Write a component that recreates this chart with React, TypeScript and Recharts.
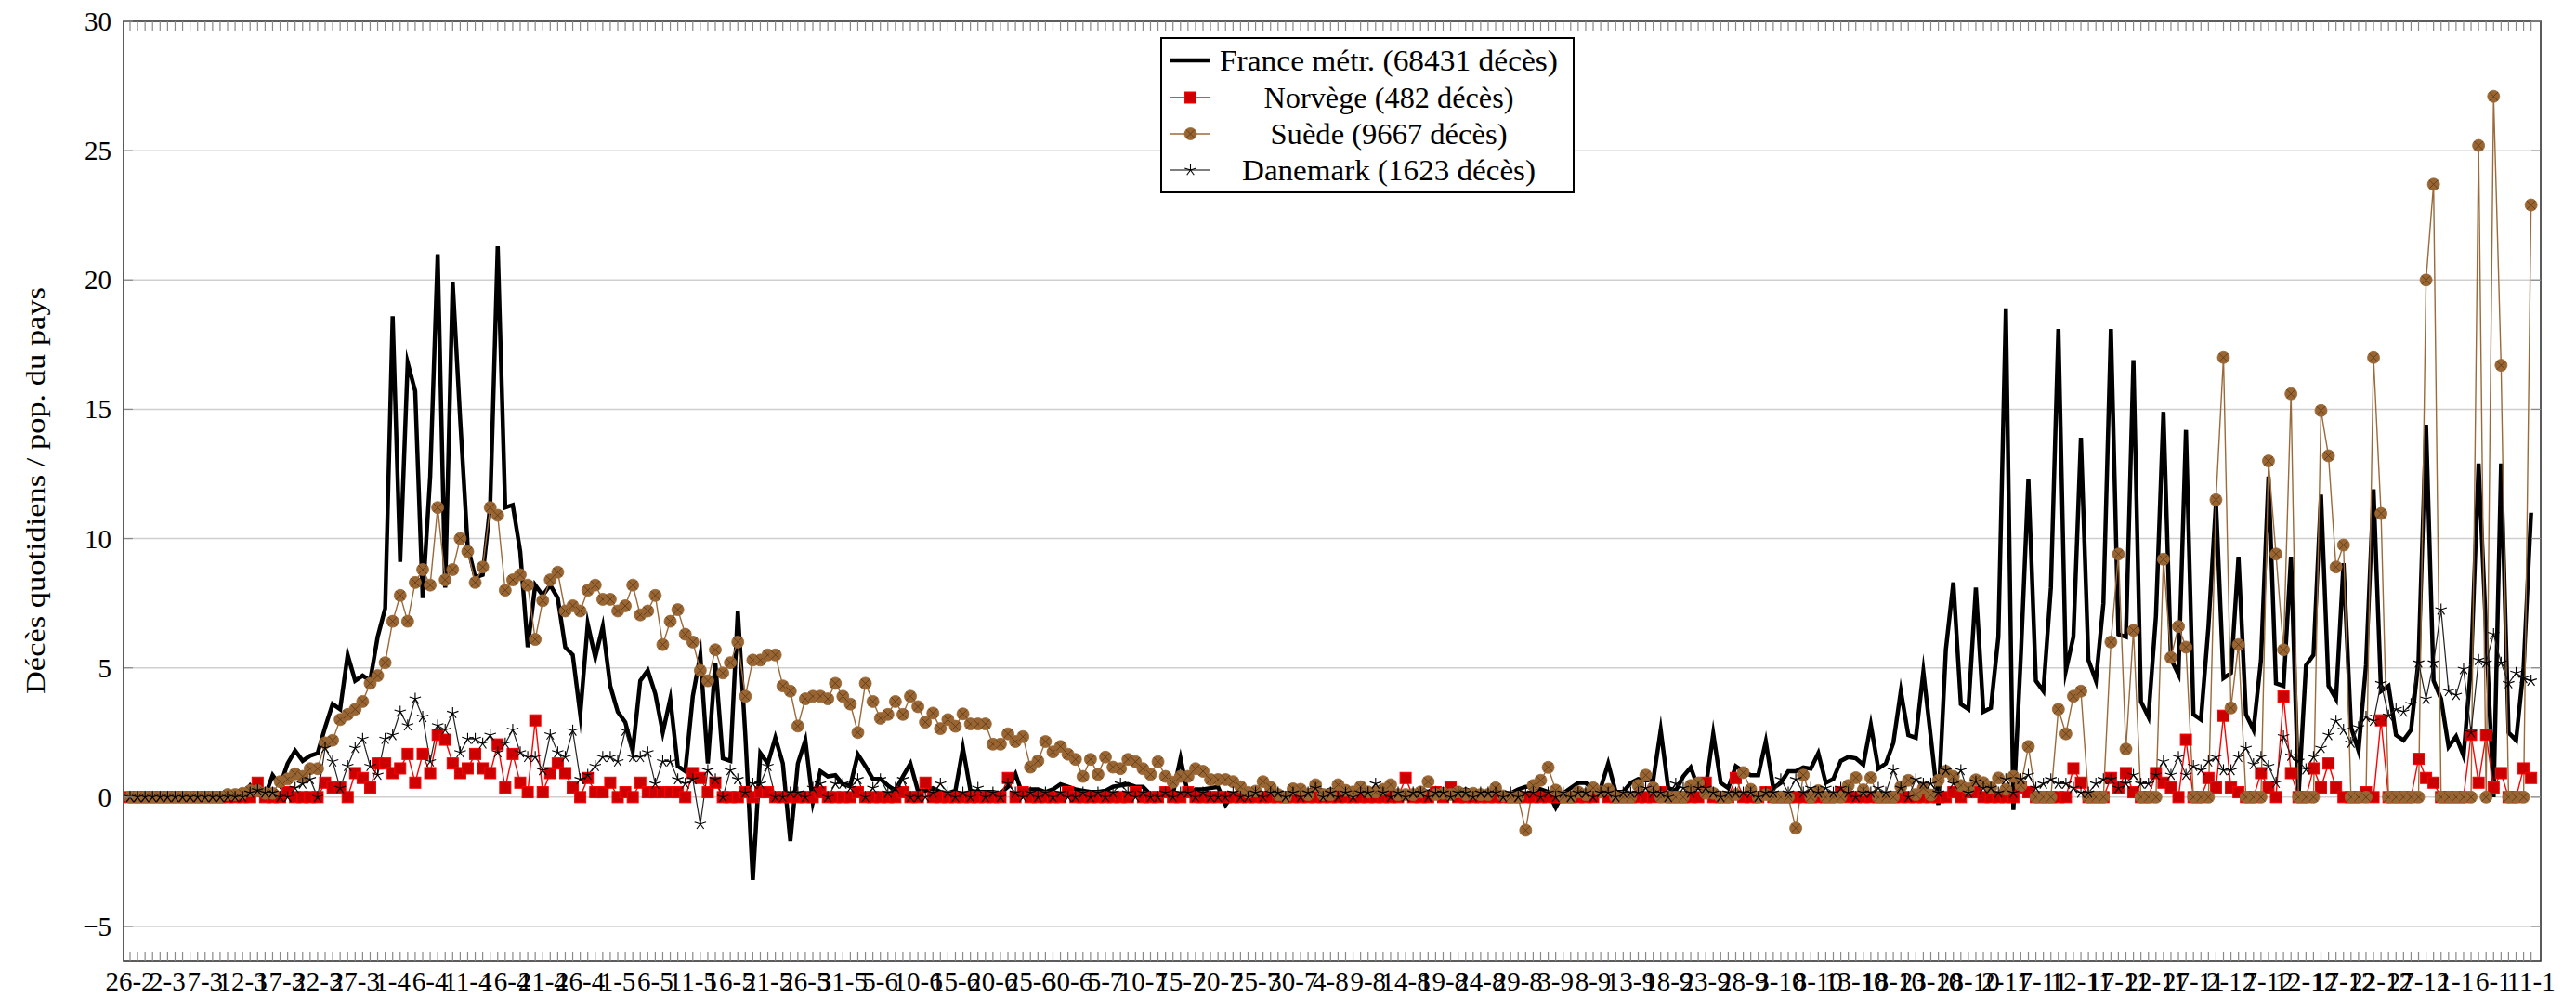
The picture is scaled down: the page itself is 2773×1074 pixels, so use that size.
import React from 'react';
import { LineChart, Line, XAxis, YAxis, CartesianGrid, ReferenceArea, Legend } from 'recharts';

const FONT = '"Liberation Serif", "DejaVu Serif", serif';
const W = 2773;
const H = 1074;
const PLOT_L = 133;
const PLOT_R = 2735;
const PLOT_T = 23;
const PLOT_B = 1034;
const X_DOMAIN: [number, number] = [-0.867, 321.28];
const Y_DOMAIN: [number, number] = [-6.33, 30];

const X_TICK_LABELS = [
  '26-2', '2-3', '7-3', '12-3', '17-3', '22-3', '27-3', '1-4', '6-4', '11-4',
  '16-4', '21-4', '26-4', '1-5', '6-5', '11-5', '16-5', '21-5', '26-5', '31-5',
  '5-6', '10-6', '15-6', '20-6', '25-6', '30-6', '5-7', '10-7', '15-7', '20-7',
  '25-7', '30-7', '4-8', '9-8', '14-8', '19-8', '24-8', '29-8', '3-9', '8-9',
  '13-9', '18-9', '23-9', '28-9', '3-10', '8-10', '13-10', '18-10', '23-10', '28-10',
  '2-11', '7-11', '12-11', '17-11', '22-11', '27-11', '2-12', '7-12', '12-12', '17-12',
  '22-12', '27-12', '1-1', '6-1', '11-1',
];
const Y_TICKS = [-5, 0, 5, 10, 15, 20, 25, 30];

const FRANCE = [
  0, 0, 0, 0, 0, 0, 0, 0, 0, 0,
  0, 0, 0, 0, 0.05, 0.05, 0.45, 0.1, 0.05, 0.85,
  0.45, 1.3, 1.8, 1.4, 1.6, 1.7, 2.7, 3.6, 3.4, 5.5,
  4.5, 4.7, 4.5, 6.2, 7.3, 18.6, 9.1, 16.8, 15.7, 7.7,
  12.4, 21.0, 8.1, 19.9, 14.6, 9.7, 8.5, 8.6, 11.3, 21.3,
  11.2, 11.3, 9.5, 5.8, 8.2, 7.8, 8.2, 7.7, 5.8, 5.5,
  3.2, 6.7, 5.4, 6.6, 4.3, 3.3, 2.9, 1.8, 4.5, 4.9,
  4.0, 2.5, 3.8, 1.2, 1.0, 3.9, 5.5, 1.3, 5.2, 1.5,
  1.4, 7.2, 2.4, -3.2, 1.7, 1.3, 2.3, 1.3, -1.7, 1.3,
  2.2, -0.2, 1.0, 0.8, 0.85, 0.5, 0.45, 1.65, 1.2, 0.7,
  0.7, 0.45, 0.25, 0.8, 1.3, 0.25, 0.25, 0.35, 0.2, 0.15,
  0.25, 1.9, 0.25, 0.2, 0.2, 0.2, 0.15, 0.4, 0.9, 0.05,
  0.3, 0.3, 0.2, 0.3, 0.5, 0.4, 0.3, 0.25, 0.2, 0.2,
  0.25, 0.4, 0.45, 0.5, 0.4, 0.4, 0.1, 0.1, 0.15, 0.15,
  1.5, 0.1, 0.3, 0.3, 0.35, 0.4, -0.3, 0.1, 0.1, 0.1,
  0.1, 0.1, 0.15, 0.1, 0.15, 0.15, 0.15, 0.2, 0.45, 0.2,
  0.3, 0.25, 0.2, 0.15, 0.3, 0.2, 0.15, 0.2, 0.25, 0.2,
  0.15, 0.2, 0.3, 0.2, 0.35, 0.3, 0.25, 0.2, 0.3, 0.2,
  0.2, 0.2, 0.15, 0.1, 0.15, 0.3, 0.4, 0.4, 0.3, 0.2,
  -0.4, 0.15, 0.35, 0.55, 0.55, 0.3, 0.35, 1.3, 0.2, 0.2,
  0.55, 0.7, 0.65, 0.65, 2.6, 0.35, 0.25, 0.8, 1.15, 0.35,
  0.35, 2.45, 0.55, 0.35, 1.2, 1.0, 0.85, 0.85, 2.15, 0.35,
  0.55, 1.0, 1.0, 1.15, 1.1, 1.7, 0.55, 0.7, 1.4, 1.55,
  1.5, 1.25, 2.8, 1.1, 1.3, 2.1, 4.1, 2.4, 2.3, 4.85,
  2.3, -0.3, 5.7, 8.3, 3.6, 3.4, 8.1, 3.3, 3.45, 6.2,
  18.9, -0.5, 5.5, 12.3, 4.5, 4.1, 8.1, 18.1, 4.9, 6.2,
  13.9, 5.3, 4.5, 7.5, 18.1, 6.3, 6.2, 16.9, 3.7, 3.1,
  7.0, 14.9, 5.35, 4.75, 14.2, 3.2, 3.0, 6.6, 11.4, 4.6,
  4.8, 9.3, 3.2, 2.6, 5.3, 12.4, 4.4, 4.3, 9.3, 0,
  5.1, 5.5, 11.7, 4.3, 3.8, 9.05, 2.7, 1.8, 5.1, 11.9,
  4.1, 4.3, 2.4, 2.2, 2.6, 5.3, 14.4, 4.5, 3.8, 1.95,
  2.35, 1.6, 5.1, 12.9, 6.4, 0, 12.9, 2.5, 2.2, 5.0, 11.0,
];

const NORWAY = [
  0, 0, 0, 0, 0, 0, 0, 0, 0, 0,
  0, 0, 0, 0, 0, 0, 0, 0.56, 0, 0,
  0, 0.19, 0, 0, 0, 0, 0.56, 0.37, 0.37, 0,
  0.93, 0.74, 0.37, 1.3, 1.3, 0.93, 1.11, 1.67, 0.56, 1.67,
  0.93, 2.41, 2.22, 1.3, 0.93, 1.11, 1.67, 1.11, 0.93, 2.04,
  0.37, 1.67, 0.56, 0.19, 2.97, 0.19, 0.93, 1.3, 0.93, 0.37,
  0, 0.74, 0.19, 0.19, 0.56, 0, 0.19, 0, 0.56, 0.19,
  0.19, 0.19, 0.19, 0.19, 0, 0.93, 0.74, 0.19, 0.56, 0,
  0, 0, 0.19, 0, 0.19, 0.19, 0, 0, 0, 0,
  0, 0, 0.19, 0, 0, 0, 0, 0.19, 0, 0,
  0, 0, 0, 0.19, 0, 0, 0.56, 0, 0, 0,
  0, 0, 0, 0, 0, 0, 0, 0.74, 0, 0.19,
  0, 0, 0, 0, 0, 0.19, 0, 0, 0, 0,
  0, 0, 0, 0, 0.19, 0, 0, 0, 0.19, 0,
  0, 0.19, 0, 0, 0, 0, 0, 0, 0, 0,
  0, 0, 0, 0, 0, 0, 0, 0, 0, 0,
  0, 0, 0, 0, 0, 0, 0, 0, 0, 0,
  0.74, 0, 0, 0, 0.19, 0, 0.37, 0, 0, 0,
  0, 0, 0, 0, 0, 0, 0, 0, 0, 0,
  0, 0, 0, 0, 0, 0, 0.19, 0, 0, 0,
  0, 0, 0, 0, 0.19, 0, 0, 0, 0, 0,
  0.56, 0, 0, 0, 0.74, 0, 0, 0, 0.19, 0,
  0, 0, 0, 0, 0, 0, 0, 0, 0.19, 0,
  0, 0, 0, 0, 0, 0, 0, 0, 0, 0,
  0, 0, 0, 0.19, 0, 0.19, 0.19, 0, 0, 0,
  0, 0, 0.37, 0.19, 0, 0, 0, 0, 0, 1.11,
  0.56, 0, 0, 0, 0.74, 0.37, 0.93, 0.19, 0, 0,
  0.93, 0.56, 0.37, 0, 2.22, 0, 0, 0.74, 0.37, 3.15,
  0.37, 0.19, 0, 0, 0.93, 0.37, 0, 3.89, 0.93, 0,
  0, 1.11, 0.37, 1.3, 0.37, 0, 0, 0, 0.19, 0,
  2.97, 0, 0, 0, 0, 1.48, 0.74, 0.56, 0, 0,
  0, 0, 2.41, 0.56, 2.41, 0.37, 0.93, 0, 0, 1.11, 0.74,
];

const SWEDEN = [
  0, 0, 0, 0, 0, 0, 0, 0, 0, 0,
  0, 0, 0, 0.1, 0.1, 0.15, 0.25, 0.25, 0.15, 0.15,
  0.6, 0.7, 0.9, 0.8, 1.1, 1.1, 2.1, 2.2, 3.0, 3.2,
  3.4, 3.7, 4.4, 4.7, 5.2, 6.8, 7.8, 6.8, 8.3, 8.8,
  8.2, 11.2, 8.4, 8.8, 10.0, 9.5, 8.3, 8.9, 11.2, 10.9,
  8.0, 8.4, 8.6, 8.2, 6.1, 7.6, 8.4, 8.7, 7.2, 7.4,
  7.2, 8.0, 8.2, 7.65, 7.65, 7.2, 7.4, 8.2, 7.05, 7.2,
  7.8, 5.9, 6.8, 7.25, 6.3, 6.0, 4.9, 4.5, 5.7, 4.8,
  5.2, 6.0, 3.9, 5.3, 5.3, 5.5, 5.5, 4.3, 4.1, 2.75,
  3.8, 3.9, 3.9, 3.8, 4.4, 3.9, 3.6, 2.5, 4.4, 3.7,
  3.05, 3.2, 3.7, 3.2, 3.9, 3.5, 2.9, 3.25, 2.65, 3.0,
  2.74, 3.22, 2.83, 2.83, 2.83, 2.05, 2.05, 2.45, 2.15, 2.34,
  1.16, 1.4, 2.15, 1.75, 1.96, 1.66, 1.46, 0.8, 1.46, 0.88,
  1.55, 1.16, 1.1, 1.46, 1.37, 1.1, 0.88, 1.37, 0.8, 0.58,
  0.8, 0.8, 1.1, 1.0, 0.68, 0.68, 0.68, 0.6, 0.4, 0.18,
  0.23, 0.6, 0.38, 0.1, 0, 0.32, 0.3, 0.1, 0.48, 0.1,
  0.1, 0.48, 0.26, 0.2, 0.4, 0.2, 0.2, 0.3, 0.48, 0.1,
  0.1, 0.1, 0.2, 0.6, 0.1, 0.15, 0.1, 0.2, 0.1, 0.15,
  0.1, 0.1, 0.36, 0.05, 0, 0, -1.28, 0.45, 0.65, 1.15,
  0.27, 0, 0, 0.2, 0.1, 0.36, 0.2, 0.3, 0, 0,
  0, 0.45, 0.85, 0.36, 0, 0, 0, 0, 0.45, 0.55,
  0.15, 0.15, 0, 0, 0.1, 0.95, 0.3, 0, 0.1, 0,
  0, 0, -1.2, 0.85, 0, 0.25, 0, 0, 0, 0.45,
  0.75, 0.28, 0.75, 0, 0, 0, 0.4, 0.65, 0.1, 0.35,
  0.08, 0.65, 1.0, 0.8, 0.45, 0.33, 0.67, 0.56, 0.37, 0.74,
  0.3, 0.8, 0.45, 1.96, 0, 0, 0, 3.4, 2.45, 3.9,
  4.1, 0, 0, 0, 6.0, 9.4, 1.86, 6.45, 0, 0,
  0, 9.2, 5.4, 6.6, 5.8, 0, 0, 0, 11.5, 17.0,
  3.45, 5.9, 0, 0, 0, 13.0, 9.4, 5.7, 15.6, 0,
  0, 0, 14.95, 13.2, 8.9, 9.75, 0, 0, 0, 17.0,
  10.97, 0, 0, 0, 0, 0, 20.0, 23.7, 0, 0,
  0, 0, 0, 25.2, 0, 27.1, 16.7, 0, 0, 0, 22.9,
];

const DENMARK = [
  0, 0, 0, 0, 0, 0, 0, 0, 0, 0,
  0, 0, 0, 0, 0, 0, 0.17, 0.26, 0.17, 0.17,
  0, 0, 0.35, 0.52, 0.69, 0, 1.9, 1.38, 0.35, 1.2,
  1.9, 2.25, 1.2, 0.86, 2.25, 2.4, 3.3, 2.77, 3.8, 3.1,
  1.38, 2.77, 2.6, 3.25, 1.73, 2.25, 2.25, 2.07, 2.4, 1.73,
  2.07, 2.6, 1.73, 1.55, 1.55, 1.04, 2.42, 1.73, 1.55, 2.57,
  0.69, 0.86, 1.2, 1.55, 1.55, 1.38, 2.57, 1.55, 1.55, 1.73,
  0.52, 1.38, 1.38, 0.69, 0.52, 0.69, -1.04, 1.04, 0.69, 0,
  1.04, 0.69, 0.17, 0.52, 0.52, 1.2, 0, 0, 0.17, 0.17,
  0, 0.35, 0.52, 0, 0.52, 0.52, 0.35, 0.69, 0, 0.35,
  0.69, 0.17, 0.35, 0.69, 0, 0, 0, 0.17, 0.52, 0.17,
  0, 0.17, 0, 0.35, 0, 0.17, 0, 0.52, 0.17, 0,
  0.17, 0, 0.17, 0, 0.17, 0, 0, 0.17, 0, 0.17,
  0, 0.17, 0.52, 0.17, 0, 0.17, 0, 0, 0.17, 0,
  0.17, 0.17, 0, 0.17, 0, 0, 0, 0.17, 0, 0,
  0.17, 0, 0.17, 0.17, 0, 0.17, 0, 0.17, 0.35, 0,
  0.17, 0, 0.17, 0, 0.17, 0.17, 0.52, 0.17, 0, 0.17,
  0, 0.17, 0.17, 0, 0.17, 0.17, 0, 0.17, 0.17, 0,
  0.17, 0.17, 0.17, 0, 0.17, 0, 0.17, 0.17, 0, 0.17,
  0, 0.17, 0, 0.17, 0.17, 0, 0.17, 0.17, 0, 0.17,
  0.17, 0.17, 0.35, 0.17, 0.17, 0, 0.52, 0.35, 0.17, 0.35,
  0.35, 0.17, 0, 0.17, 0.17, 0.17, 0.17, 0, 0.17, 0.17,
  0.69, 0.17, 0.69, 0.17, 0.35, 0.17, 0.35, 0.17, 0.35, 0.17,
  0, 0.17, 0.17, 0.35, 0.17, 1.04, 0.35, 0, 0.69, 0.52,
  0.52, 0.17, 1.04, 0.52, 1.04, 0.17, 0.6, 0.35, 0.35, 0.17,
  0.69, 0.17, 0.69, 0.86, 0.35, 0.52, 0.69, 0.52, 0.52, 0.35,
  0.17, 0.17, 0.52, 0.69, 0.69, 0.35, 0.52, 0.86, 0.52, 0.52,
  0.86, 1.38, 0.86, 1.55, 0.86, 1.2, 1.04, 1.38, 1.55, 1.04,
  1.04, 1.55, 1.9, 1.27, 1.55, 1.2, 0.55, 2.35, 1.6, 1.4,
  1.07, 1.55, 1.9, 2.4, 2.95, 2.6, 2.1, 2.7, 3.1, 2.95,
  4.4, 3.15, 3.4, 3.3, 3.6, 5.2, 3.8, 5.2, 7.25, 4.1,
  3.95, 4.95, 2.5, 5.3, 5.2, 6.3, 5.2, 4.4, 4.8, 4.6, 4.5,
];

const SERIES_NAMES = {
  fr: 'France métr. (68431 décès)',
  no: 'Norvège (482 décès)',
  se: 'Suède (9667 décès)',
  dk: 'Danemark (1623 décès)',
};

const data = FRANCE.map((v, i) => ({
  day: i,
  fr: v,
  no: NORWAY[i],
  se: SWEDEN[i],
  dk: DENMARK[i],
}));

const DAY_TICKS = data.map((d) => d.day);

const COL_NO_LINE = '#ff0000';
const COL_NO_FILL = '#cc0000';
const COL_SE_LINE = '#9a6a3a';
const COL_SE_FILL = '#996633';
const COL_SE_CROSS = '#5e3a17';

const ok = (p: any) => p && typeof p.cx === 'number' && typeof p.cy === 'number' && !isNaN(p.cy);

const SquareDot = (p: any) => {
  if (!ok(p)) return null;
  const s = 12;
  return <rect x={p.cx - s / 2} y={p.cy - s / 2} width={s} height={s} fill={COL_NO_FILL} stroke={COL_NO_LINE} strokeWidth={1} />;
};

const OtimesDot = (p: any) => {
  if (!ok(p)) return null;
  const r = 6.5;
  const d = r * 0.707;
  return (
    <g>
      <circle cx={p.cx} cy={p.cy} r={r} fill={COL_SE_FILL} stroke={COL_SE_FILL} strokeWidth={0.8} />
      <line x1={p.cx - d} y1={p.cy - d} x2={p.cx + d} y2={p.cy + d} stroke={COL_SE_CROSS} strokeWidth={0.9} />
      <line x1={p.cx - d} y1={p.cy + d} x2={p.cx + d} y2={p.cy - d} stroke={COL_SE_CROSS} strokeWidth={0.9} />
    </g>
  );
};

const STAR_ANGLES = [90, 162, 234, 306, 18];
const StarDot = (p: any) => {
  if (!ok(p)) return null;
  const r = 6.5;
  return (
    <g>
      {STAR_ANGLES.map((a) => {
        const rad = (a * Math.PI) / 180;
        return (
          <line key={a} x1={p.cx} y1={p.cy} x2={p.cx + r * Math.cos(rad)} y2={p.cy - r * Math.sin(rad)} stroke="#000" strokeWidth={1.1} />
        );
      })}
    </g>
  );
};

const XTick = (props: any) => {
  const { x, y, payload } = props;
  const v = payload.value as number;
  const plotH = PLOT_B - PLOT_T;
  const major = v % 5 === 0;
  return (
    <g>
      <line x1={x} x2={x} y1={y} y2={y - 10} stroke="#8a8a8a" strokeWidth={1.2} />
      <line x1={x} x2={x} y1={y - plotH} y2={y - plotH + 10} stroke="#8a8a8a" strokeWidth={1.2} />
      {major && (
        <text x={x} y={y + 32} textAnchor="middle" fontFamily={FONT} fontSize={29} fill="#000">
          {X_TICK_LABELS[v / 5]}
        </text>
      )}
    </g>
  );
};

const YTick = (props: any) => {
  const { y, payload } = props;
  const v = payload.value as number;
  const label = v < 0 ? `\u2212${Math.abs(v)}` : `${v}`;
  return (
    <g>
      <line x1={PLOT_L} x2={PLOT_L + 10} y1={y} y2={y} stroke="#8a8a8a" strokeWidth={1.2} />
      <line x1={PLOT_R - 10} x2={PLOT_R} y1={y} y2={y} stroke="#8a8a8a" strokeWidth={1.2} />
      <text x={PLOT_L - 13} y={y + 10} textAnchor="end" fontFamily={FONT} fontSize={29} fill="#000">
        {label}
      </text>
    </g>
  );
};

const YLabel = () => (
  <text
    x={37}
    y={528}
    transform="rotate(-90, 37, 528)"
    textAnchor="middle"
    dominantBaseline="central"
    fontFamily={FONT}
    fontSize={30}
    fill="#000"
    textLength={438}
    lengthAdjust="spacingAndGlyphs"
  >
    Décès quotidiens / pop. du pays
  </text>
);

const LEG_ROWS = [
  { key: 'fr', len: 364 },
  { key: 'no', len: 269 },
  { key: 'se', len: 255 },
  { key: 'dk', len: 316 },
];

const LegendBox = () => {
  const w = 446;
  const h = 168;
  const rowY = [25, 65, 104, 143];
  const sx1 = 11;
  const sx2 = 54;
  const mx = (sx1 + sx2) / 2;
  const tx = 246;
  return (
    <svg width={w} height={h} style={{ display: 'block' }}>
      <rect x={1} y={1} width={w - 2} height={h - 2} fill="#fff" stroke="#000" strokeWidth={2} />
      {LEG_ROWS.map((r, i) => {
        const y = rowY[i];
        let sample: React.ReactNode = null;
        if (r.key === 'fr') sample = <line x1={sx1} x2={sx2} y1={y} y2={y} stroke="#000" strokeWidth={4.5} />;
        if (r.key === 'no')
          sample = (
            <g>
              <line x1={sx1} x2={sx2} y1={y} y2={y} stroke={COL_NO_LINE} strokeWidth={1.5} />
              <SquareDot cx={mx} cy={y} />
            </g>
          );
        if (r.key === 'se')
          sample = (
            <g>
              <line x1={sx1} x2={sx2} y1={y} y2={y} stroke={COL_SE_LINE} strokeWidth={1.5} />
              <OtimesDot cx={mx} cy={y} />
            </g>
          );
        if (r.key === 'dk')
          sample = (
            <g>
              <line x1={sx1} x2={sx2} y1={y} y2={y} stroke="#555" strokeWidth={1.5} />
              <StarDot cx={mx} cy={y} />
            </g>
          );
        return (
          <g key={r.key}>
            {sample}
            <text
              x={tx}
              y={y + 11}
              textAnchor="middle"
              fontFamily={FONT}
              fontSize={31}
              fill="#000"
              textLength={r.len}
              lengthAdjust="spacingAndGlyphs"
            >
              {(SERIES_NAMES as any)[r.key]}
            </text>
          </g>
        );
      })}
    </svg>
  );
};

export default function App() {
  return (
    <div style={{ position: 'absolute', left: 0, top: 0, width: W, height: H, background: '#fff' }}>
      <LineChart
        width={W}
        height={H}
        data={data}
        margin={{ top: PLOT_T, right: W - PLOT_R, bottom: 0, left: 0 }}
        style={{ fontFamily: FONT }}
      >
        <CartesianGrid vertical={false} stroke="#cfcfcf" strokeWidth={1.5} />
        <XAxis
          dataKey="day"
          type="number"
          domain={X_DOMAIN}
          allowDataOverflow
          ticks={DAY_TICKS}
          interval={0}
          tick={<XTick />}
          tickLine={false}
          axisLine={false}
          tickSize={0}
          tickMargin={0}
          height={H - PLOT_B}
        />
        <YAxis
          type="number"
          domain={Y_DOMAIN}
          allowDataOverflow
          ticks={Y_TICKS}
          interval={0}
          tick={<YTick />}
          tickLine={false}
          axisLine={false}
          tickSize={0}
          tickMargin={0}
          width={PLOT_L}
          label={<YLabel />}
        />
        <Line
          dataKey="fr"
          name={SERIES_NAMES.fr}
          type="linear"
          stroke="#000"
          strokeWidth={4.5}
          strokeLinejoin="miter"
          strokeMiterlimit={10}
          dot={false}
          activeDot={false}
          isAnimationActive={false}
        />
        <Line
          dataKey="no"
          name={SERIES_NAMES.no}
          type="linear"
          stroke={COL_NO_LINE}
          strokeWidth={1.4}
          dot={<SquareDot />}
          activeDot={false}
          isAnimationActive={false}
        />
        <Line
          dataKey="se"
          name={SERIES_NAMES.se}
          type="linear"
          stroke={COL_SE_LINE}
          strokeWidth={1.4}
          dot={<OtimesDot />}
          activeDot={false}
          isAnimationActive={false}
        />
        <Line
          dataKey="dk"
          name={SERIES_NAMES.dk}
          type="linear"
          stroke="#222"
          strokeWidth={1.2}
          dot={<StarDot />}
          activeDot={false}
          isAnimationActive={false}
        />
        <ReferenceArea
          x1={X_DOMAIN[0]}
          x2={X_DOMAIN[1]}
          y1={Y_DOMAIN[0]}
          y2={Y_DOMAIN[1]}
          fill="none"
          fillOpacity={0}
          stroke="#333"
          strokeWidth={1.6}
          ifOverflow="visible"
        />
        <Legend
          layout="vertical"
          align="center"
          verticalAlign="middle"
          content={() => <LegendBox />}
          wrapperStyle={{ position: 'absolute', left: 1249, top: 40, width: 446, height: 168, margin: 0, padding: 0 }}
        />
      </LineChart>
    </div>
  );
}
